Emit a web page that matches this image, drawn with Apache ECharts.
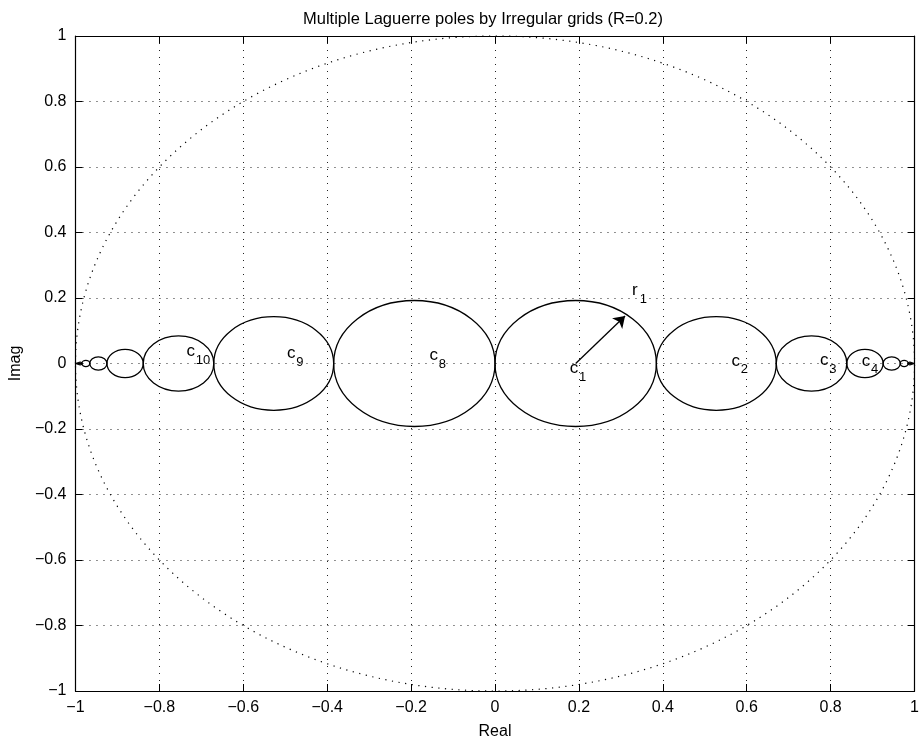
<!DOCTYPE html>
<html>
<head>
  <meta charset="utf-8">
</head>
<body style="margin: 0; width: 922px; height: 745px; background: #fff;">
  <div id="container" style="width: 922px; height: 745px;"></div>
  <script type="text/javascript" src="https://cdn.jsdelivr.net/npm/echarts@6/dist/echarts.min.js"></script>
  <script type="text/javascript">
    // pole disks along the real axis: centre (real part) and radius
    var poleCenters = [-0.9951, -0.9889, -0.9753, -0.9455, -0.8818, -0.7544, -0.5275, -0.1923,
                       0.1923, 0.5275, 0.7544, 0.8818, 0.9455, 0.9753, 0.9889, 0.9951];
    var poleRadii = [0.0020, 0.0043, 0.0093, 0.0205, 0.0433, 0.0841, 0.1429, 0.1923,
                     0.1923, 0.1429, 0.0841, 0.0433, 0.0205, 0.0093, 0.0043, 0.0020];
    // unit circle (dotted)
    var unitCircle = [0, 0, 1];
    // text labels
    var labelMain = ['c', 'c', 'c', 'c', 'c', 'c', 'c', 'r'];
    var labelSub = ['10', '9', '8', '1', '2', '3', '4', '1'];
    var labelX = [-0.725, -0.486, -0.146, 0.188, 0.574, 0.785, 0.884, 0.333];
    var labelY = [0.038, 0.032, 0.026, -0.014, 0.008, 0.010, 0.008, 0.223];
    // radius arrow of c1
    var arrowFrom = [0.1923, 0];
    var arrowTo = [0.31, 0.145];

    var FONT = '"Liberation Sans", Arial, sans-serif';

    var dom = document.getElementById('container');
    var myChart = echarts.init(dom, null, { renderer: 'canvas' });

    function fmt(v) {
      var a = Math.round(Math.abs(v) * 10) / 10;
      return (v < -1e-9 ? '\u2212' : '') + a;
    }

    var circleData = poleCenters.map(function (c, i) { return [c, 0, poleRadii[i]]; });
    var labelData = labelX.map(function (x, i) { return [x, labelY[i]]; });

    function circleItem(width, dash) {
      return function (params, api) {
        var c = api.coord([api.value(0), api.value(1)]);
        var s = api.size([api.value(2), api.value(2)]);
        return {
          type: 'ellipse',
          shape: { cx: c[0], cy: c[1], rx: s[0], ry: s[1] },
          style: { fill: 'none', stroke: '#000', lineWidth: width, lineDash: dash }
        };
      };
    }

    var tickStyle = { show: true, inside: true, length: 7, lineStyle: { color: '#000', width: 1 } };
    var lineStyle = { show: true, onZero: false, lineStyle: { color: '#000', width: 1.2 } };

    var option = {
      backgroundColor: '#fff',
      animation: false,
      title: {
        text: 'Multiple Laguerre poles by Irregular grids (R=0.2)',
        left: 478,
        top: 6,
        textAlign: 'center',
        textStyle: { fontFamily: FONT, fontSize: 16.5, fontWeight: 'normal', color: '#000' }
      },
      grid: { left: 75, right: 1, top: 36, bottom: 50 },
      xAxis: [{
        type: 'value', min: -1, max: 1, interval: 0.2, position: 'bottom',
        name: 'Real', nameLocation: 'middle', nameGap: 33,
        nameTextStyle: { fontFamily: FONT, fontSize: 16, color: '#000' },
        axisLine: lineStyle, axisTick: tickStyle,
        axisLabel: { margin: 9, fontFamily: FONT, fontSize: 16, color: '#000', formatter: fmt },
        splitLine: { show: true, lineStyle: { color: '#222', width: 1, type: [1, 6] } }
      }, {
        type: 'value', min: -1, max: 1, interval: 0.2, position: 'top',
        axisLine: lineStyle, axisTick: tickStyle,
        axisLabel: { show: false }, splitLine: { show: false }
      }],
      yAxis: [{
        type: 'value', min: -1, max: 1, interval: 0.2, position: 'left',
        name: 'Imag', nameLocation: 'middle', nameGap: 50, nameRotate: 90,
        nameTextStyle: { fontFamily: FONT, fontSize: 16, color: '#000' },
        axisLine: lineStyle, axisTick: tickStyle,
        axisLabel: { margin: 9, fontFamily: FONT, fontSize: 16, color: '#000', formatter: fmt },
        splitLine: { show: true, lineStyle: { color: '#222', width: 1, type: [1, 6] } }
      }, {
        type: 'value', min: -1, max: 1, interval: 0.2, position: 'right',
        axisLine: lineStyle, axisTick: tickStyle,
        axisLabel: { show: false }, splitLine: { show: false }
      }],
      series: [{
        name: 'unit circle',
        type: 'custom',
        clip: false,
        renderItem: circleItem(1.2, [1.2, 5.5]),
        data: [unitCircle],
        z: 2
      }, {
        name: 'poles',
        type: 'custom',
        clip: false,
        renderItem: circleItem(1.3, null),
        data: circleData,
        z: 3
      }, {
        name: 'radius',
        type: 'lines',
        coordinateSystem: 'cartesian2d',
        symbol: ['none', 'arrow'],
        symbolSize: 11,
        lineStyle: { color: '#000', width: 1.3, opacity: 1 },
        data: [{ coords: [arrowFrom, arrowTo] }],
        z: 4
      }, {
        name: 'labels',
        type: 'custom',
        clip: false,
        renderItem: function (params, api) {
          var p = api.coord([api.value(0), api.value(1)]);
          var i = params.dataIndex;
          return {
            type: 'group',
            children: [{
              type: 'text', x: p[0], y: p[1],
              style: { text: labelMain[i], font: '17px ' + FONT, fill: '#000', align: 'center', verticalAlign: 'middle' }
            }, {
              type: 'text', x: p[0] + 5, y: p[1] + 9,
              style: { text: labelSub[i], font: '13px ' + FONT, fill: '#000', align: 'left', verticalAlign: 'middle' }
            }]
          };
        },
        data: labelData,
        z: 5
      }]
    };

    myChart.setOption(option);
  </script>
</body>
</html>
